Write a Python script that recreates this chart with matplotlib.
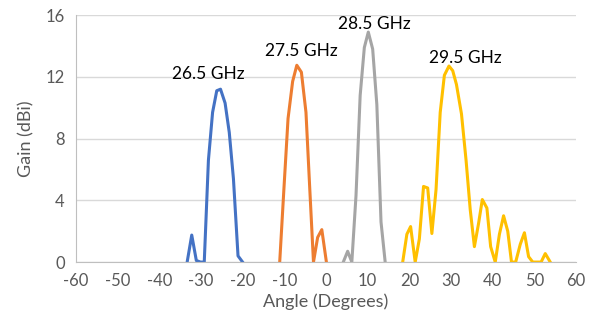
import matplotlib
matplotlib.use('Agg')
from matplotlib import pyplot as plt

# measured beam patterns, angle (deg) vs gain (dBi)
ang_265 = [-33.3, -32.2, -31.1, -30.1, -29.2, -28.2, -27.2, -26.2, -25.3, -24.2, -23.2, -22.2, -21.1, -20.0]
gain_265 = [0, 1.75, 0.1, 0, 0, 6.6, 9.7, 11.1, 11.2, 10.3, 8.4, 5.4, 0.4, 0]

ang_275 = [-11.1, -10.1, -9.1, -8.0, -7.0, -5.9, -4.8, -3.9, -3.0, -2.0, -1.0, 0.1]
gain_275 = [0, 4.7, 9.3, 11.7, 12.75, 12.3, 9.7, 4.8, 0, 1.6, 2.1, 0]

ang_285 = [4.15, 5.2, 6.2, 7.2, 8.2, 9.2, 10.15, 11.2, 12.2, 13.2, 14.2]
gain_285 = [0, 0.7, 0, 4.3, 10.8, 13.9, 14.9, 13.8, 10.2, 2.6, 0]

ang_295 = [18.4, 19.4, 20.3, 21.4, 22.4, 23.4, 24.4, 25.4, 26.4, 27.4, 28.4, 29.5,
           30.4, 31.3, 32.5, 33.6, 34.6, 35.6, 36.6, 37.5, 38.6, 39.5, 40.6, 41.6,
           42.6, 43.6, 44.5, 45.5, 46.6, 47.6, 48.6, 49.6, 50.6, 51.6, 52.6, 53.8]
gain_295 = [0, 1.8, 2.3, 0, 1.5, 4.9, 4.8, 1.85, 4.7, 9.7, 12.1, 12.7,
            12.4, 11.5, 9.6, 6.6, 3.4, 1.0, 2.5, 4.05, 3.5, 1.0, 0, 1.8,
            3.0, 2.0, 0, 0, 1.15, 1.9, 0.35, 0, 0, 0, 0.55, 0]

series = [
    (ang_265, gain_265, '#4472C4', '26.5 GHz', (-28.3, 12.2)),
    (ang_275, gain_275, '#ED7D31', '27.5 GHz', (-5.8, 13.7)),
    (ang_285, gain_285, '#A5A5A5', '28.5 GHz', (11.5, 15.4)),
    (ang_295, gain_295, '#FFC000', '29.5 GHz', (33.4, 13.2)),
]

x_ticks = list(range(-60, 61, 10))
y_ticks = [0, 4, 8, 12, 16]

plt.rcParams['font.family'] = ['Lato', 'DejaVu Sans']
plt.rcParams['axes.unicode_minus'] = False

fig = plt.figure(figsize=(6.02, 3.28), dpi=100)
ax = fig.add_axes([0.126, 0.201, 0.831, 0.753])

for ang, gain, col, name, pos in series:
    ax.plot(ang, gain, color=col, linewidth=2.2, solid_joinstyle='round')
    ax.text(pos[0], pos[1], name, ha='center', va='center', fontsize=12.5, color='black')

ax.set_xlim(-60, 60)
ax.set_ylim(0, 16)
ax.set_xticks(x_ticks)
ax.set_yticks(y_ticks)
ax.yaxis.grid(True, color='#D9D9D9', linewidth=1)
ax.set_axisbelow(True)
ax.tick_params(length=0, labelsize=12, labelcolor='#595959', pad=8)

for s in ['top', 'right']:
    ax.spines[s].set_visible(False)
for s in ['left', 'bottom']:
    ax.spines[s].set_color('#BFBFBF')

ax.set_xlabel('Angle (Degrees)', fontsize=13, color='#595959', labelpad=3)
ax.set_ylabel('Gain (dBi)', fontsize=13, color='#595959', labelpad=8)

fig.savefig('out.png', dpi=100)
